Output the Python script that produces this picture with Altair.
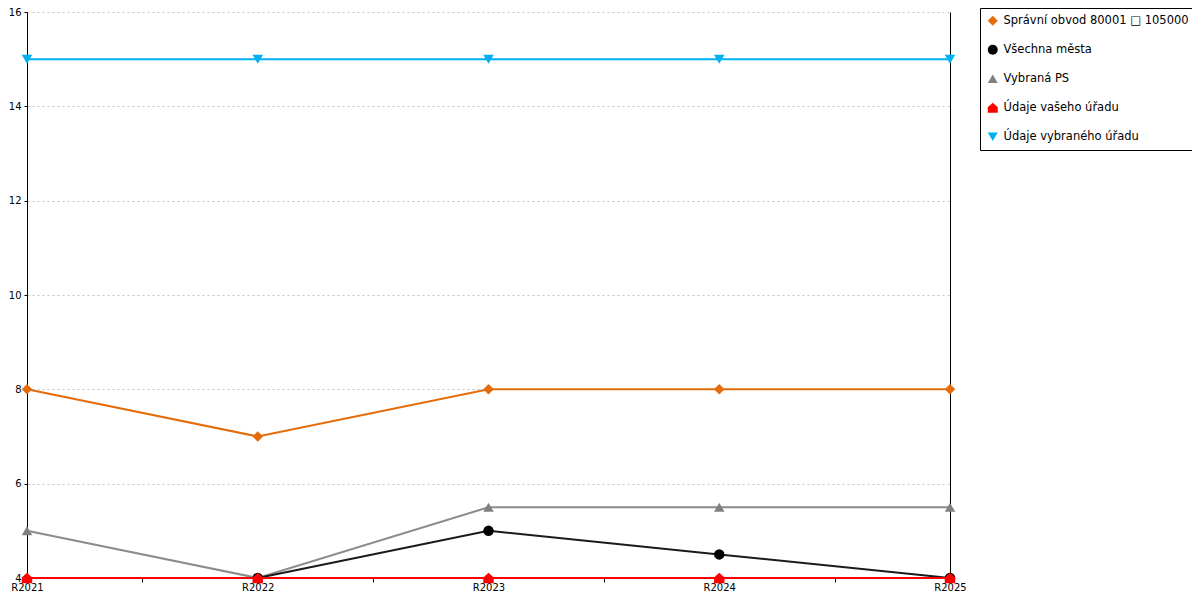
import altair as alt
import pandas as pd

categories = ["R2021", "R2022", "R2023", "R2024", "R2025"]
series_names = [
    "Správní obvod 80001 \u25a1 105000",
    "Všechna města",
    "Vybraná PS",
    "Údaje vašeho úřadu",
    "Údaje vybraného úřadu",
]
spravni_obvod = [8, 7, 8, 8, 8]
vsechna_mesta = [None, 4, 5, 4.5, 4]
vybrana_ps = [5, 4, 5.5, 5.5, 5.5]
vaseho_uradu = [4, 4, 4, 4, 4]
vybraneho_uradu = [15, 15, 15, 15, 15]

series_values = [spravni_obvod, vsechna_mesta, vybrana_ps, vaseho_uradu, vybraneho_uradu]
marker_colors = ["#E46C0A", "#000000", "#808080", "#FF0000", "#00B0F0"]
line_colors = ["#E46C0A", "#1a1a1a", "#8c8c8c", "#FF0000", "#00B0F0"]
house = "M-1,1L1,1L1,-0.1L0,-1L-1,-0.1Z"
shapes = ["diamond", "circle", "triangle-up", house, "triangle-down"]
y_ticks = [4, 6, 8, 10, 12, 14, 16]

rows = []
for name, vals in zip(series_names, series_values):
    for i, (cat, v) in enumerate(zip(categories, vals)):
        if v is not None:
            rows.append({"series": name, "cat": cat, "idx": i, "value": v})
df = pd.DataFrame(rows)

label_expr = "[" + ",".join(f"'{c}'" for c in categories) + "][datum.value]"

x_enc = alt.X(
    "idx:Q",
    scale=alt.Scale(domain=[0, len(categories) - 1], nice=False, zero=False),
    axis=alt.Axis(
        title=None,
        values=[i * 0.5 for i in range(2 * len(categories) - 1)],
        labelExpr=f"datum.value % 1 === 0 ? {label_expr} : ''",
        tickOpacity={"condition": {"test": "datum.value % 1 === 0", "value": 0}, "value": 1},
        grid=False,
        labelFlush=False,
        labelOverlap=False,
        domainColor="#000000",
        tickColor="#000000",
        tickSize=4,
        labelPadding=0,
        labelColor="#000000",
        labelFontSize=10,
        labelFont="DejaVu Sans",
    ),
)
y_scale = alt.Scale(domain=[4, 16], nice=False, zero=False)
y_enc = alt.Y(
    "value:Q",
    scale=y_scale,
    axis=alt.Axis(
        title=None,
        values=y_ticks,
        grid=True,
        labelFlush=False,
        gridDash=[2, 3],
        gridColor="#c4c4c4",
        domainColor="#000000",
        tickColor="#000000",
        tickSize=3,
        labelPadding=3,
        labelColor="#000000",
        labelFontSize=10,
        labelFont="DejaVu Sans",
    ),
)
color_enc = alt.Color(
    "series:N",
    scale=alt.Scale(domain=series_names, range=marker_colors),
    legend=alt.Legend(
        title=None,
        orient="none",
        legendX=953,
        legendY=-4,
        strokeColor="#000000",
        padding=7,
        rowPadding=16,
        labelFontSize=11.5,
        labelFont="DejaVu Sans",
        labelColor="#000000",
        symbolSize=100,
        symbolStrokeWidth=0,
        labelOffset=5,
        labelLimit=400,
    ),
)
shape_enc = alt.Shape(
    "series:N",
    scale=alt.Scale(domain=series_names, range=shapes),
)

draw_order = [0, 2, 1, 3, 4]
layers = []
for k in draw_order:
    name = series_names[k]
    base = alt.Chart(df).transform_filter(alt.datum.series == name)
    line = base.mark_line(strokeWidth=2, color=line_colors[k]).encode(x=x_enc, y=y_enc)
    pts = base.mark_point(filled=True, opacity=1, size=110).encode(
        x=x_enc, y=y_enc, color=color_enc, shape=shape_enc
    )
    layers.append(line)
    layers.append(pts)

series_layer = alt.layer(*layers)

right_axis = alt.Chart(df).mark_point(opacity=0).encode(
    x=x_enc,
    y=alt.Y(
        "value:Q",
        scale=y_scale,
        axis=alt.Axis(
            title=None, orient="right", labels=False, ticks=False, grid=False,
            domainColor="#000000",
        ),
    ),
)

chart = (
    alt.layer(series_layer, right_axis)
    .resolve_scale(y="independent")
    .properties(
        width=923,
        height=566,
        autosize=alt.AutoSizeParams(type="none"),
        padding={"left": 19, "top": 4, "right": 242, "bottom": 14},
    )
    .configure_view(stroke=None)
)

chart.save("out.html", embed_options={"renderer": "svg", "actions": False})
